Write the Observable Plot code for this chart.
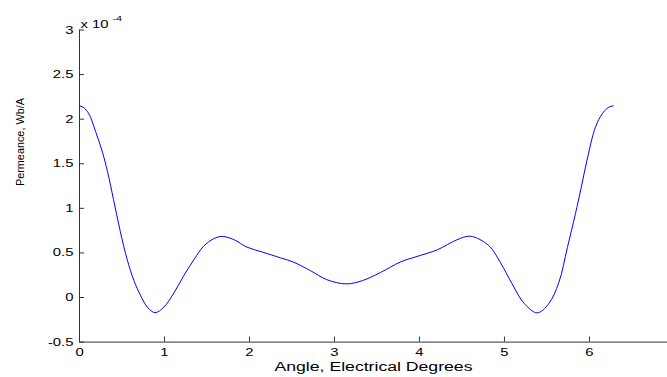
<!DOCTYPE html>
<html><head><meta charset="utf-8">
<script src="https://cdn.jsdelivr.net/npm/d3@7"></script>
<script src="https://cdn.jsdelivr.net/npm/@observablehq/plot@0.6"></script>
<style>html,body{margin:0;padding:0;background:#fff;overflow:hidden} svg{display:block}</style>
</head><body><div id="chart"></div>
<script>
// Angle (electrical, rad) and permeance (x 1e-4 Wb/A)
const angle = [0, 0.05, 0.11, 0.19, 0.27, 0.33, 0.40, 0.48, 0.56, 0.64, 0.72, 0.80, 0.89, 0.99, 1.11, 1.23, 1.35, 1.46, 1.58, 1.68, 1.815, 1.97, 2.15, 2.365, 2.52, 2.72, 2.91, 3.14, 3.33, 3.54, 3.78, 3.97, 4.21, 4.44, 4.60, 4.815, 4.95, 5.09, 5.23, 5.385, 5.52, 5.64, 5.74, 5.835, 5.90, 5.97, 6.07, 6.15, 6.22, 6.28];
const permeance = [2.15, 2.13, 2.06, 1.86, 1.63, 1.41, 1.10, 0.74, 0.43, 0.19, 0.02, -0.11, -0.17, -0.11, 0.05, 0.25, 0.43, 0.575, 0.66, 0.685, 0.65, 0.565, 0.51, 0.445, 0.396, 0.30, 0.20, 0.153, 0.19, 0.28, 0.40, 0.46, 0.535, 0.647, 0.687, 0.583, 0.396, 0.153, -0.064, -0.172, -0.07, 0.17, 0.56, 0.94, 1.22, 1.536, 1.91, 2.06, 2.13, 2.15];
const xTicks = [0, 1, 2, 3, 4, 5, 6];
const yTicks = [-0.5, 0, 0.5, 1, 1.5, 2, 2.5, 3];
const xLabel = "Angle, Electrical Degrees";
const yLabel = "Permeance, Wb/A";
const expBase = "x 10";
const expPow = "-4";

const data = angle.map((a, i) => ({angle: a, permeance: permeance[i]}));
const axisColor = "#333333";

const chart = Plot.plot({
  width: 667, height: 377,
  marginLeft: 79, marginRight: 0, marginTop: 29.5, marginBottom: 35.4,
  style: {fontFamily: "'Liberation Sans', Arial, sans-serif", fontSize: "11px", color: "#000", background: "#fff", overflow: "visible"},
  x: {domain: [0, 6.918]},
  y: {domain: [-0.5, 3]},
  marks: [
    Plot.ruleX([0], {stroke: axisColor}),
    Plot.ruleY([-0.5], {stroke: axisColor}),
    Plot.axisX({ticks: xTicks, tickSize: -5, tickPadding: 11, stroke: axisColor, label: null, tickFormat: d => String(d)}),
    Plot.axisY({ticks: yTicks, tickSize: -5, tickPadding: 11, stroke: axisColor, label: null, tickFormat: d => String(d)}),
    Plot.line(data, {x: "angle", y: "permeance", stroke: "#0000ff", strokeWidth: 1, curve: "catmull-rom"}),
    Plot.text([xLabel], {frameAnchor: "bottom", dy: 29, fontSize: 12.5, fill: "#000"}),
    Plot.text([yLabel], {frameAnchor: "left", rotate: -90, dx: -59, fontSize: 11, fill: "#000", className: "ylab"}),
    Plot.text([expBase], {frameAnchor: "top-left", textAnchor: "start", dx: 1, dy: -9.7, fontSize: 11, fill: "#000"}),
    Plot.text([expPow], {frameAnchor: "top-left", textAnchor: "start", dx: 33, dy: -15, fontSize: 8, fill: "#000"})
  ]
});
document.getElementById("chart").appendChild(chart);

// Reference text is horizontally stretched; emulate it
chart.querySelectorAll("text").forEach(t => {
  const isY = t.closest(".ylab") || (t.getAttribute("transform") || "").includes("rotate");
  const len = t.getComputedTextLength();
  if (isY) {
    t.setAttribute("textLength", 88);
  } else if (t.textContent === xLabel) {
    t.setAttribute("textLength", 198);
  } else {
    t.setAttribute("textLength", len * 1.35);
  }
  t.setAttribute("lengthAdjust", "spacingAndGlyphs");
});
</script>
</body></html>
